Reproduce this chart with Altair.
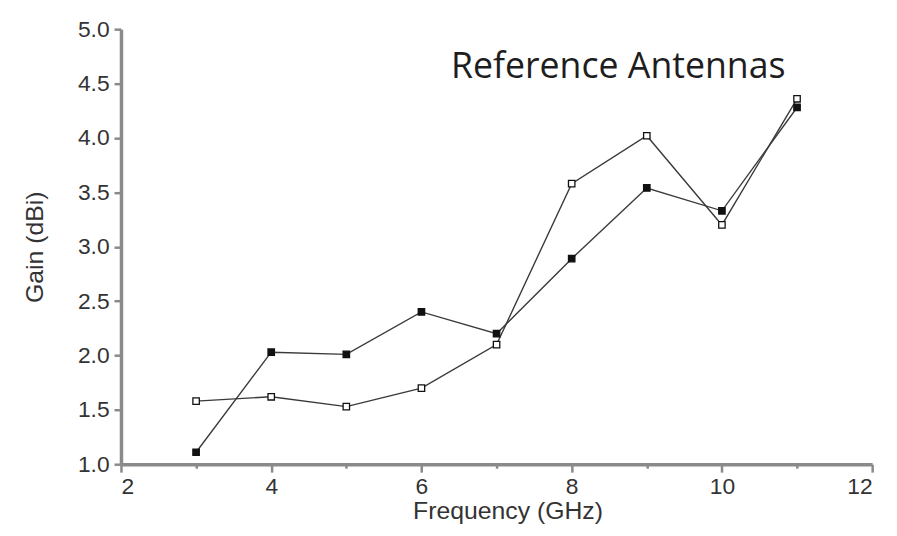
import altair as alt
import pandas as pd

# Data
freq_ghz = [3, 4, 5, 6, 7, 8, 9, 10, 11]
gain_filled = [1.11, 2.03, 2.01, 2.40, 2.20, 2.89, 3.54, 3.33, 4.28]
gain_open = [1.58, 1.62, 1.53, 1.70, 2.10, 3.58, 4.02, 3.20, 4.36]
series_names = ["filled", "open"]

x_tick_values = [2, 3, 4, 5, 6, 7, 8, 9, 10, 11, 12]
y_tick_values = [1.0, 1.25, 1.5, 1.75, 2.0, 2.25, 2.5, 2.75, 3.0, 3.25,
                 3.5, 3.75, 4.0, 4.25, 4.5, 4.75, 5.0]

annotation_text = ["Reference Antennas"]
annotation_x = [8.62]
annotation_y = [4.55]

rows = []
for f, g in zip(freq_ghz, gain_filled):
    rows.append({"freq": f, "gain": g, "series": series_names[0]})
for f, g in zip(freq_ghz, gain_open):
    rows.append({"freq": f, "gain": g, "series": series_names[1]})
df = pd.DataFrame(rows)

ann = pd.DataFrame({"x": annotation_x, "y": annotation_y, "t": annotation_text})

xscale = alt.Scale(domain=[2, 12], nice=False, zero=False)
yscale = alt.Scale(domain=[1, 5], nice=False, zero=False)

axis_style = dict(
    domainColor="#8a8a8a",
    domainWidth=3.5,
    tickColor="#8a8a8a",
    tickWidth=2.5,
    labelFont="Liberation Sans",
    labelFontSize=23,
    labelColor="#333333",
    titleFont="Liberation Sans",
    titleFontSize=25,
    titleFontWeight="normal",
    titleColor="#333333",
    grid=False,
)

xaxis = alt.Axis(
    title="Frequency (GHz)",
    values=x_tick_values,
    format="d",
    labelExpr="datum.value % 2 === 0 ? datum.label : ''",
    tickSize={"condition": {"test": "datum.value % 2 === 0", "value": 8}, "value": 4},
    labelPadding=4,
    titlePadding=0,
    titleX=390,
    **axis_style,
)
yaxis = alt.Axis(
    title="Gain (dBi)",
    values=y_tick_values,
    format=".1f",
    labelExpr="(datum.value * 2) % 1 === 0 ? datum.label : ''",
    tickSize={"condition": {"test": "(datum.value * 2) % 1 === 0", "value": 7}, "value": 4},
    labelPadding=5,
    titlePadding=30,
    **axis_style,
)

base = alt.Chart(df)

lines = base.mark_line(color="#3a3a3a", strokeWidth=1.4).encode(
    x=alt.X("freq:Q", scale=xscale, axis=xaxis),
    y=alt.Y("gain:Q", scale=yscale, axis=yaxis),
    detail="series:N",
)

points = base.mark_square(size=42, stroke="#111111", strokeWidth=1.3, opacity=1).encode(
    x=alt.X("freq:Q", scale=xscale),
    y=alt.Y("gain:Q", scale=yscale),
    fill=alt.Fill("series:N", scale=alt.Scale(domain=series_names, range=["#111111", "#ffffff"]), legend=None),
)

text = alt.Chart(ann).mark_text(
    font="Open Sans", fontSize=36, color="#1e1e1e", align="center", baseline="alphabetic"
).encode(
    x=alt.X("x:Q", scale=xscale),
    y=alt.Y("y:Q", scale=yscale),
    text="t:N",
)

chart = alt.layer(lines, points, text).properties(
    width=758,
    height=439,
    autosize=alt.AutoSizeParams(type="none"),
    padding={"left": 114, "top": 19, "right": 17, "bottom": 62},
).configure_view(stroke=None)

chart.save("out.html", embed_options={"renderer": "svg", "actions": False})
